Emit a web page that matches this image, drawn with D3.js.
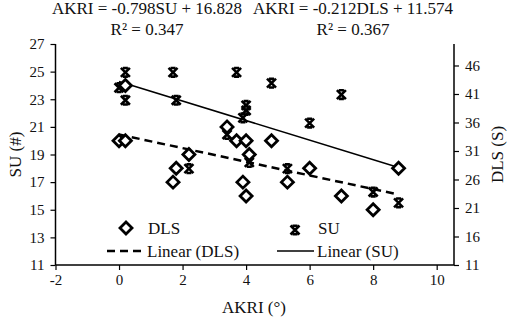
<!DOCTYPE html>
<html>
<head>
<meta charset="utf-8">
<script src="https://cdn.jsdelivr.net/npm/d3@7"></script>
<style>
  body { margin: 0; background: #fff; }
  text { font-family: 'Liberation Serif', 'Times New Roman', serif; fill: #111; }
</style>
</head>
<body>
<div id="chart"></div>
<script>
// diamond series (read on left axis)
const dlsAkri = [0.2, 0, 0.2, 2.2, 1.8, 1.7, 3.4, 3.7, 4.0, 4.1, 3.9, 4.0, 4.8, 5.3, 6.0, 7.0, 8.0, 8.8]
const dlsValues = [24, 20, 20, 19, 18, 17, 21, 20, 20, 19, 17, 16, 20, 17, 18, 16, 15, 18]

// cross series (read on right axis)
const suAkri = [0.2, 1.7, 3.7, 0.0, 0.2, 1.8, 4.0, 4.0, 3.9, 3.4, 2.2, 4.1, 4.8, 5.3, 6.0, 7.0, 8.0, 8.8]
const suValues = [44.8, 44.8, 44.8, 42.1, 39.9, 39.9, 39.0, 38.1, 36.8, 33.9, 27.9, 29.0, 42.9, 27.9, 35.9, 40.9, 23.8, 21.9]

// trend lines, end points
const trendDlsAkri = [0, 8.8]
const trendDlsValues = [20.45, 16.1]
const trendSuAkri = [0, 8.8]
const trendSuValues = [43.2, 28.1]

const xTicks = [-2, 0, 2, 4, 6, 8, 10]
const leftTicks = [11, 13, 15, 17, 19, 21, 23, 25, 27]
const rightTicks = [11, 16, 21, 26, 31, 36, 41, 46]

const W = 512
const H = 320
const plot = { left: 55.5, right: 454, top: 44, bottom: 265 }

const svg = d3
  .select('#chart')
  .append('svg')
  .attr('width', W)
  .attr('height', H)

const x = d3.scaleLinear().domain([-2, 10.545]).range([plot.left, plot.right])
const yLeft = d3.scaleLinear().domain([11, 27]).range([plot.bottom, plot.top])
const yRight = d3.scaleLinear().domain([11, 49.77]).range([plot.bottom, plot.top])

// plain hyphen for negatives, like the original
const fmt = d => String(d)

// axes
const xAxis = d3.axisBottom(x).tickValues(xTicks).tickFormat(fmt).tickSize(5).tickPadding(4)
svg
  .append('g')
  .attr('class', 'axis x-axis')
  .attr('transform', 'translate(0,' + plot.bottom + ')')
  .call(xAxis)

const leftAxis = d3.axisLeft(yLeft).tickValues(leftTicks).tickFormat(fmt).tickSize(5).tickPadding(6)
svg
  .append('g')
  .attr('class', 'axis y-axis')
  .attr('transform', 'translate(' + plot.left + ',0)')
  .call(leftAxis)

const rightAxis = d3.axisRight(yRight).tickValues(rightTicks).tickFormat(fmt).tickSize(5).tickPadding(6)
svg
  .append('g')
  .attr('class', 'axis y2-axis')
  .attr('transform', 'translate(' + plot.right + ',0)')
  .call(rightAxis)

svg.selectAll('.axis path').attr('stroke', '#000').attr('stroke-width', 1.5)
svg.selectAll('.axis line').attr('stroke', '#000').attr('stroke-width', 1.2)
svg
  .selectAll('.axis text')
  .attr('font-size', 15)
  .attr('font-family', "'Liberation Serif', 'Times New Roman', serif")
  .attr('fill', '#222')
// no outer end ticks on the domain paths
svg.selectAll('.y-axis path').attr('d', 'M0,' + plot.top + 'V' + plot.bottom)
svg.selectAll('.y2-axis path').attr('d', 'M0,' + plot.top + 'V' + plot.bottom)
svg.selectAll('.x-axis path').attr('d', 'M' + plot.left + ',0H' + plot.right)

// trend lines
const line = d3
  .line()
  .x(d => x(d[0]))
  .y(d => d[2](d[1]))

svg
  .append('path')
  .datum(d3.zip(trendDlsAkri, trendDlsValues).map(d => [d[0], d[1], yLeft]))
  .attr('d', line)
  .attr('stroke', '#000')
  .attr('stroke-width', 2.5)
  .attr('stroke-dasharray', '8,5')
  .attr('fill', 'none')

svg
  .append('path')
  .datum(d3.zip(trendSuAkri, trendSuValues).map(d => [d[0], d[1], yRight]))
  .attr('d', line)
  .attr('stroke', '#000')
  .attr('stroke-width', 1.5)
  .attr('fill', 'none')

// markers
const diamond = 'M0,-6L6,0L0,6L-6,0Z'
const cross = 'M-4.5,-4.5L4.5,4.5M4.5,-4.5L-4.5,4.5M-2.5,-4.3H2.5M-2.5,4.3H2.5'

svg
  .selectAll('.su')
  .data(d3.zip(suAkri, suValues))
  .enter()
  .append('path')
  .attr('class', 'su')
  .attr('d', cross)
  .attr('transform', d => 'translate(' + x(d[0]) + ',' + yRight(d[1]) + ')')
  .attr('stroke', '#000')
  .attr('stroke-width', 2.6)
  .attr('fill', 'none')

svg
  .selectAll('.dls')
  .data(d3.zip(dlsAkri, dlsValues))
  .enter()
  .append('path')
  .attr('class', 'dls')
  .attr('d', diamond)
  .attr('transform', d => 'translate(' + x(d[0]) + ',' + yLeft(d[1]) + ')')
  .attr('stroke', '#000')
  .attr('stroke-width', 2.8)
  .attr('fill', '#fff')

// equations on top
const eqs = [
  { cx: 147, lines: ['AKRI = -0.798SU + 16.828', 'R² = 0.347'] },
  { cx: 353, lines: ['AKRI = -0.212DLS + 11.574', 'R² = 0.367'] }
]
eqs.forEach(function (eq) {
  eq.lines.forEach(function (t, i) {
    svg
      .append('text')
      .text(t)
      .attr('x', eq.cx)
      .attr('y', 14 + i * 21)
      .attr('text-anchor', 'middle')
      .attr('font-size', 17)
  })
})

// axis titles
svg
  .append('text')
  .text('AKRI (°)')
  .attr('x', 254)
  .attr('y', 313)
  .attr('text-anchor', 'middle')
  .attr('font-size', 17)

svg
  .append('text')
  .text('SU (#)')
  .attr('transform', 'translate(21,' + (plot.top + plot.bottom) / 2 + ') rotate(-90)')
  .attr('text-anchor', 'middle')
  .attr('font-size', 17)

svg
  .append('text')
  .text('DLS (S)')
  .attr('transform', 'translate(503,' + (plot.top + plot.bottom) / 2 + ') rotate(-90)')
  .attr('text-anchor', 'middle')
  .attr('font-size', 17)

// legend
const legend = svg.append('g').attr('class', 'legend')
legend
  .append('path')
  .attr('d', diamond)
  .attr('transform', 'translate(126,228)')
  .attr('stroke', '#000')
  .attr('stroke-width', 2.8)
  .attr('fill', '#fff')
legend.append('text').text('DLS').attr('x', 148).attr('y', 234).attr('font-size', 17)

legend
  .append('path')
  .attr('d', cross)
  .attr('transform', 'translate(295,230)')
  .attr('stroke', '#000')
  .attr('stroke-width', 2.6)
  .attr('fill', 'none')
legend.append('text').text('SU').attr('x', 318).attr('y', 234).attr('font-size', 17)

legend
  .append('line')
  .attr('x1', 107)
  .attr('x2', 145)
  .attr('y1', 251)
  .attr('y2', 251)
  .attr('stroke', '#000')
  .attr('stroke-width', 2.5)
  .attr('stroke-dasharray', '8,5')
legend.append('text').text('Linear (DLS)').attr('x', 147).attr('y', 257).attr('font-size', 17)

legend
  .append('line')
  .attr('x1', 277)
  .attr('x2', 314)
  .attr('y1', 251)
  .attr('y2', 251)
  .attr('stroke', '#000')
  .attr('stroke-width', 1.5)
legend.append('text').text('Linear (SU)').attr('x', 317).attr('y', 257).attr('font-size', 17)
</script>
</body>
</html>
